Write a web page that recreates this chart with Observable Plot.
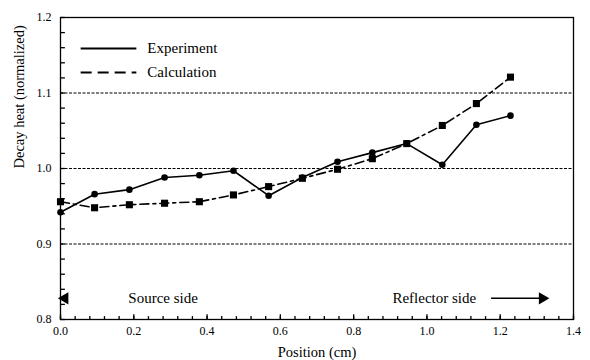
<!DOCTYPE html>
<html>
<head>
<meta charset="utf-8">
<script src="https://cdn.jsdelivr.net/npm/d3@7"></script>
<script src="https://cdn.jsdelivr.net/npm/@observablehq/plot@0.6"></script>
<style>
  body { margin: 0; background: #fff; }
  #chart { width: 590px; height: 360px; }
  #chart svg, #chart svg text { font-family: "Liberation Serif", "DejaVu Serif", serif !important; }
</style>
</head>
<body>
<div id="chart"></div>
<script>
const positions   = [0.0, 0.093, 0.188, 0.284, 0.379, 0.472, 0.568, 0.660, 0.756, 0.851, 0.945, 1.042, 1.135, 1.228];
const experiment  = [0.942, 0.966, 0.972, 0.988, 0.991, 0.997, 0.964, 0.988, 1.009, 1.021, 1.033, 1.005, 1.058, 1.070];
const calculation = [0.956, 0.948, 0.952, 0.954, 0.956, 0.965, 0.976, 0.987, 0.999, 1.013, 1.033, 1.057, 1.086, 1.121];
const xTicks = [0.0, 0.2, 0.4, 0.6, 0.8, 1.0, 1.2, 1.4];
const yTicks = [0.8, 0.9, 1.0, 1.1, 1.2];
const gridLines = [0.9, 1.0, 1.1];
const seriesNames = ["Experiment", "Calculation"];
const xLabel = "Position (cm)";
const yLabel = "Decay heat (normalized)";
// annotation anchors in data units
const legendX = [0.055, 0.207, 0.237];
const legendY = [1.159, 1.127];
const sideLabels = [{x: 0.28, y: 0.828, text: "Source side"}, {x: 1.02, y: 0.828, text: "Reflector side"}];
const arrowSpan = [1.175, 1.315];
const arrowHead = [{x: 1.315, y: 0.828}];
const sourceMarker = [{x: 0.012, y: 0.828}];

const expData = positions.map((x, i) => ({x, y: experiment[i]}));
const calcData = positions.map((x, i) => ({x, y: calculation[i]}));
const minorX = d3.range(0, 1.4001, 0.04);
const minorY = d3.range(0.8, 1.2001, 0.02);

const font = "Liberation Serif";

const chart = Plot.plot({
  width: 590,
  height: 360,
  marginLeft: 60,
  marginRight: 17,
  marginTop: 17,
  marginBottom: 41,
  style: {fontFamily: font, fontSize: "12px", color: "#000", background: "#fff"},
  x: {domain: [0, 1.4]},
  y: {domain: [0.8, 1.2]},
  marks: [
    Plot.ruleY(gridLines, {stroke: "#000", strokeWidth: 1, strokeDasharray: "3,1.5"}),
    Plot.frame({stroke: "#000", strokeWidth: 1.3}),
    Plot.axisX({ticks: xTicks, tickSize: 0, tickPadding: 7, tickFormat: d3.format(".1f"), label: null, fontSize: 12}),
    Plot.axisY({ticks: yTicks, tickSize: 0, tickPadding: 9, tickFormat: d3.format(".1f"), label: null, fontSize: 12}),
    // inward ticks
    Plot.link(minorX, {x1: d => d, x2: d => d, y1: () => 0.8, y2: () => 0.8045, stroke: "#000", strokeWidth: 1.3}),
    Plot.link(xTicks, {x1: d => d, x2: d => d, y1: () => 0.8, y2: () => 0.807, stroke: "#000", strokeWidth: 1.3}),
    Plot.link(minorY, {x1: () => 0, x2: () => 0.012, y1: d => d, y2: d => d, stroke: "#000", strokeWidth: 1.3}),
    Plot.text([xLabel], {frameAnchor: "bottom", lineAnchor: "middle", dy: 33, fontSize: 14.5, fontFamily: font}),
    Plot.text([yLabel], {frameAnchor: "left", dx: -41, rotate: -90, fontSize: 14.5, fontFamily: font}),
    // data
    Plot.line(calcData, {x: "x", y: "y", stroke: "#000", strokeWidth: 1.6, strokeDasharray: "9,4,3,4"}),
    Plot.line(expData, {x: "x", y: "y", stroke: "#000", strokeWidth: 1.6}),
    Plot.dot(calcData, {x: "x", y: "y", symbol: "square", r: 4, fill: "#000"}),
    Plot.dot(expData, {x: "x", y: "y", symbol: "circle", r: 3.3, fill: "#000"}),
    // legend
    Plot.link([0], {x1: () => legendX[0], x2: () => legendX[1], y1: () => legendY[0], y2: () => legendY[0], stroke: "#000", strokeWidth: 2}),
    Plot.link([0], {x1: () => legendX[0], x2: () => legendX[1], y1: () => legendY[1], y2: () => legendY[1], stroke: "#000", strokeWidth: 2, strokeDasharray: "11,6"}),
    Plot.text(seriesNames, {x: () => legendX[2], y: (d, i) => legendY[i], text: d => d, textAnchor: "start", fontSize: 15, fontFamily: font}),
    // side annotations
    Plot.text(sideLabels, {x: "x", y: "y", text: "text", fontSize: 15, fontFamily: font}),
    Plot.dot(sourceMarker, {x: "x", y: "y", symbol: "triangle", rotate: -90, r: 4.5, fill: "#000"}),
    Plot.link([0], {x1: () => arrowSpan[0], x2: () => arrowSpan[1], y1: () => sideLabels[1].y, y2: () => sideLabels[1].y, stroke: "#000", strokeWidth: 1.5}),
    Plot.dot(arrowHead, {x: "x", y: "y", symbol: "triangle", rotate: 90, r: 4.5, fill: "#000"})
  ]
});
document.getElementById("chart").appendChild(chart);
</script>
</body>
</html>
